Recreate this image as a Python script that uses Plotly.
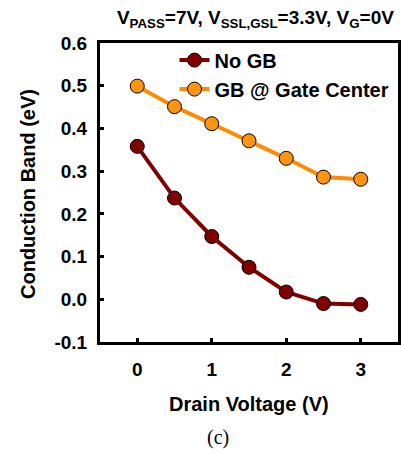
import plotly.graph_objects as go

drain_v = [0, 0.5, 1, 1.5, 2, 2.5, 3]
no_gb = [0.358, 0.237, 0.147, 0.075, 0.017, -0.010, -0.012]
gb_center = [0.499, 0.451, 0.411, 0.371, 0.330, 0.286, 0.281]

x_ticks = [0, 1, 2, 3]
y_ticks = [-0.1, 0.0, 0.1, 0.2, 0.3, 0.4, 0.5, 0.6]
y_tick_text = ["-0.1", "0.0", "0.1", "0.2", "0.3", "0.4", "0.5", "0.6"]

FONT = "Liberation Sans, Arial, sans-serif"
SERIF = "Liberation Serif, Times New Roman, serif"

fig = go.Figure()
fig.add_trace(go.Scatter(
    x=drain_v, y=no_gb, mode="lines+markers", name="No GB",
    line=dict(color="#800000", width=4),
    marker=dict(size=14, color="#800000", line=dict(color="black", width=1)),
))
fig.add_trace(go.Scatter(
    x=drain_v, y=gb_center, mode="lines+markers", name="GB @ Gate Center",
    line=dict(color="#FF8C00", width=4),
    marker=dict(size=14, color="#FF9410", line=dict(color="black", width=1)),
))

fig.update_layout(
    width=401, height=453,
    margin=dict(l=100, r=3, t=43, b=111, autoexpand=False),
    plot_bgcolor="white", paper_bgcolor="white",
    font=dict(family=FONT, size=20, color="black", weight="bold"),
    showlegend=True,
    legend=dict(x=0.25, y=1.008, xanchor="left", yanchor="top",
                bgcolor="rgba(0,0,0,0)", font=dict(size=20, weight="bold"),
                tracegroupgap=0, itemwidth=30),
    title=dict(text="V<sub>PASS</sub>=7V, V<sub>SSL,GSL</sub>=3.3V, V<sub>G</sub>=0V",
               x=0.637, xanchor="center", y=0.961, yanchor="middle",
               font=dict(size=19, weight="bold")),
    annotations=[
        dict(text="Conduction Band (eV)", xref="paper", yref="paper",
             x=-0.2416, y=0.495, xanchor="center", yanchor="middle",
             textangle=-90, showarrow=False, font=dict(size=20, weight="bold")),
        dict(text="Drain Voltage (V)", xref="paper", yref="paper",
             x=0.5, y=-0.207, xanchor="center", yanchor="middle",
             showarrow=False, font=dict(size=20, weight="bold")),
        dict(text="(c)", xref="paper", yref="paper", x=0.396, y=-0.321,
             xanchor="center", yanchor="middle", showarrow=False,
             font=dict(family=SERIF, size=20, weight="normal")),
    ],
)
fig.update_xaxes(range=[-0.5, 3.5], tickvals=x_ticks, ticks="inside", ticklen=4,
                 tickwidth=3, tickcolor="black", showgrid=False, zeroline=False,
                 showline=True, linecolor="black", linewidth=3, mirror=True,
                 automargin=False, ticklabelstandoff=8,
                 tickfont=dict(size=19, weight="bold"))
fig.update_yaxes(range=[-0.1, 0.6], tickvals=y_ticks, ticktext=y_tick_text,
                 ticks="inside", ticklen=4, tickwidth=3, tickcolor="black",
                 showgrid=False, zeroline=False, showline=True, linecolor="black",
                 linewidth=3, mirror=True, automargin=False, ticklabelstandoff=6,
                 tickfont=dict(size=19, weight="bold"))

fig.write_html("out.html", config={"displayModeBar": False},
               post_script="document.body.style.margin='0';document.body.style.overflow='hidden';")
